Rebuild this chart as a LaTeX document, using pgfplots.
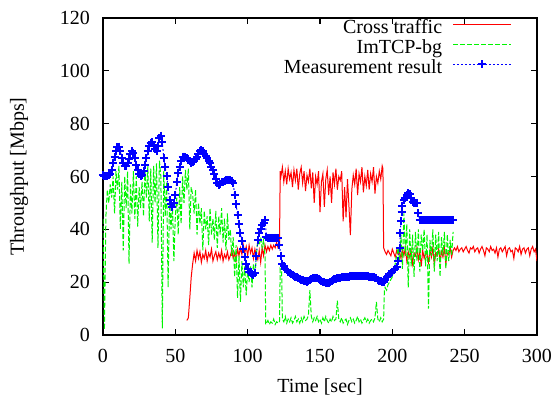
\documentclass[border=0pt]{standalone}
\usepackage{fontspec}
\setmainfont{Liberation Serif}
\usepackage{pgfplots}
\pgfplotsset{compat=1.18}

\definecolor{gpred}{RGB}{255,0,0}
\definecolor{gpgreen}{RGB}{0,245,0}
\definecolor{gpblue}{RGB}{0,0,255}

\begin{document}
\begin{tikzpicture}
\useasboundingbox (-51.5pt,-30.5pt) rectangle (225.5pt,167.5pt);
\begin{axis}[
  scale only axis,
  width=217pt, height=158.5pt,
  xmin=0, xmax=300, ymin=0, ymax=120,
  xtick={0,50,...,300}, ytick={0,20,...,120},
  minor tick num=0,
  tick align=inside,
  major tick length=3pt,
  tick style={line width=0.6pt, black},
  axis line style={line width=0.8pt, black},
  /pgf/number format/assume math mode=true,
  ticklabel style={font=\fontsize{10}{12}\selectfont},
  xticklabel shift=3.5pt,
  yticklabel shift=3pt,
  label style={font=\fontsize{10}{12}\selectfont},
  xlabel={Time [sec]},
  ylabel={Throughput [Mbps]},
  xlabel style={yshift=-1pt},
  ylabel style={yshift=9pt},
  legend plot pos=right,
  legend cell align=right,
  legend style={draw=none, fill=none, at={(0.943,1.0126)}, anchor=north east,
    inner sep=0pt, column sep=5pt,
    nodes={inner sep=0.35pt, text height=9.3pt, text depth=0pt},
    font=\fontsize{10}{12}\selectfont},
  legend image code/.code={%
    \draw[mark repeat=2, mark phase=2, #1] plot coordinates {(0pt,0pt) (14.5pt,0pt) (29pt,0pt)};},
]

% Cross traffic
\addplot[color=gpred, line width=0.5pt] table {
t v
58 5.5
59 6.5
60 14
61 22
62 27
63 31
64 28
65 32
66 29
67 31.5
68 27.5
69 30.5
70 29
71 32
72 28
73 31
74 29.5
75 32.5
76 28
77 30
78 31.5
79 28.5
80 31
81 29
82 32
83 28
84 30.5
85 29
86 31.5
87 28.5
88 30
89 32
90 29
91 31
92 28
93 32.5
94 30
95 33
96 30.5
97 34
98 31
99 33.5
100 30
101 34
102 31
103 33
104 29
105 32.5
106 30
107 28.5
108 32
109 27.5
110 33
111 30
112 34
113 31.5
114 33.5
115 32
116 34
117 32.5
118 34
119 33
120 35
121 33
122 34
122.5 62
123 60
124 63.5
125 58
126 62
127 57
128 63
129 59
130 61.5
131 56
132 62.5
133 58.5
134 63
135 55
136 61
137 63.5
138 57.5
139 62
140 54.5
141 60.5
142 58
143 63
144 55.5
145 61.5
146 50
147 60
148 57
149 62
150 46.5
151 58
152 61
153 48.5
154 59
155 62.5
156 53
157 60
158 50
159 61.5
160 57
161 63
162 55
163 60
164 58.5
165 62
166 43
167 56
168 44.5
169 59
170 49
171 37.8
172 55
173 60.5
174 57
175 63
176 53
177 61
178 58
179 63.5
180 54
181 60
182 56.5
183 62.5
184 55
185 61
186 58
187 63.5
188 53.5
189 60
190 57.5
191 62
192 59
193 64
193.5 63
194 33
195 31.5
196 30.5
197 32
198 31
199 30
200 32.5
201 31
202 29.5
203 32
204 30.5
205 31.5
206 29
207 32.5
208 30
209 33
210 28
211 31.5
212 29.5
213 32
214 27
215 31
216 30
217 33
218 28.5
219 31.5
220 26
221 32
222 29
223 31
224 30.5
225 27.5
226 32
227 29.5
228 33
229 26.5
230 31
231 30
232 32.5
233 28
234 31.5
235 29.5
236 33
237 27
238 31
239 30.5
240 33
241 29.5
242 32
243 33
244 32
245 33.5
246 31.5
247 32.5
248 33
249 31.5
250 32.5
251 33.5
252 32
253 31
254 33
255 32.5
256 33.5
257 31.5
258 32.5
259 33
260 31
261 32.5
262 33.5
263 32
264 30
265 33
266 32.5
267 31.5
268 33.5
269 32
270 32.5
271 31
272 33
273 29.5
274 32.5
275 33
276 31.5
277 32.5
278 33.5
279 30
280 32.5
281 33
282 31.5
283 32
284 29
285 33
286 32.5
287 31.5
288 33.5
289 30.5
290 32.5
291 33
292 31
293 32.5
294 33
295 30
296 32.5
297 33.5
298 31.5
299 32.5
300 28
};
\addlegendentry{Cross traffic}

% ImTCP-bg
\addplot[color=gpgreen, line width=0.5pt, dash pattern=on 2.5pt off 1pt] table {
t v
0 44
1 2
2 45
3 55
4 50
5 57
6 52
7 60
8 46
9 62
10 55
11 64
12 40
13 58
14 32
15 60
16 48
17 62
18 27
19 57
20 46
21 62
22 44
23 60
24 41
25 56
26 48
27 58
28 45
29 62
30 52
31 64
32 43
33 63
34 35
35 64
36 50
37 65
38 33
39 66
40 60
41 2.5
42 62
43 45
44 58
45 18
46 52
47 40
48 50
49 28
50 45
51 52
52 38
53 56
54 42
55 60
56 50
57 62.5
58 55
59 63
60 40
61 56
62 53
63 46
64 55
65 38
66 50
67 42
68 48
69 32
70 47
71 40
72 45
73 34
74 48
75 38
76 44
77 36
78 47
79 33
80 45
81 38
82 48
83 35
84 44
85 32
86 46
87 36
88 40
89 30
90 37
91 22
92 34
93 14
94 30
95 12.5
96 28
97 18
98 26
99 15
100 25
101 20
102 26
103 18
104 27
105 22
106 30
107 36
108 34
109 37
110 33
111 36
112 30
112.5 4
113 4.5
114 5.5
115 4
116 5
117 4.5
118 6
119 4
120 5
121 4.5
122 5
122.5 25
123.5 24
124 6
125 5
126 7
127 4.5
128 6
129 5
130 6.5
131 4.5
132 5.5
133 7
134 5
135 6
136 4.5
137 6.5
138 5
139 7
140 5.5
141 6
142 7.5
143 17
144 7
145 5
146 6.5
147 5.5
148 7
149 5
150 6
151 4.5
152 6.5
153 5
154 7
155 5.5
156 4.5
157 6
158 5
159 7
160 5.5
161 6
162 13
163 6
164 5
165 6.5
166 4.5
167 5.5
168 6
169 4
170 5.5
171 6.5
172 5
173 6
174 4.5
175 5.5
176 7
177 5
178 6
179 4.5
180 5.5
181 6.5
182 5
183 6
184 4.5
185 5.5
186 6
187 5
188 6.5
189 12.5
190 6
191 5
192 6.5
193 5
194 6
194.5 17
195 18
196 17
197 19
198 20
199 21
200 22
201 24
202 27
203 30
204 33
205 28
206 38
207 25
208 46
209 30
210 42
211 18
212 40
213 26
214 38
215 22
216 39
217 28
218 40
219 24
220 38
221 32
222 40
223 26
224 38
225 10
226 36
227 30
228 40
229 24
230 38
231 28
232 39
233 22
234 37
235 30
236 39
237 25
238 38
239 28
240 36
241 30
242 39
};
\addlegendentry{ImTCP-bg}

% Measurement result
\addplot[color=gpblue, line width=0.5pt, dash pattern=on 0.8pt off 1.2pt,
  mark=+, mark size=2pt, mark options={solid, line width=1pt}] table {
t v
0 60.5
1 60
2 60
3 60
4 60.5
5 61
6 62.5
7 65
8 67.5
9 69.5
10 71
11 71.3
12 69.5
13 67
14 65
15 64
16 64
17 65
18 66.5
19 68.5
20 69.5
21 69
22 67
23 64.5
24 62.5
25 61
26 60
27 60.5
28 62
29 64.5
30 67
31 69.5
32 71.5
33 72.8
34 73
35 72
36 70.5
37 69.5
38 71.5
39 74.5
40 75.5
41 73
42 67
43 63.5
44 60
45 56
46 51
47 49.5
48 48.6
49 50
50 53
51 58
52 61.5
53 63.7
54 66
55 67.5
56 67.5
57 67.3
58 67
59 66.5
60 65.8
61 65
62 65.3
63 66
64 66.8
65 67.5
66 68.5
67 69.5
68 70
69 69.5
70 68.7
71 67.8
72 67
73 66
74 65
75 63.5
76 62.5
77 61
78 59
79 57.5
80 56.8
81 57.3
82 57.8
83 58
84 58.3
85 58.5
86 58.7
87 58.7
88 58.7
89 58.3
90 57.5
91 53
92 49.5
93 45.5
94 42
95 38.5
96 35.5
97 32.5
98 29.5
99 27
100 25
101 24
102 23.3
103 22.9
104 22.7
105 23.5
106 30
107 36
108 38.5
109 40
110 41.5
111 42.5
112 43.5
113 37
114 36.8
115 36.8
116 36.8
117 36.8
118 36.8
119 36.8
120 36.8
121 36.8
122 34
123 30
124 27
125 26
126 25
127 24.5
128 24
129 23.5
130 23
131 22.7
132 22.4
133 22.1
134 21.9
135 21.6
136 21.3
137 21
138 20.7
139 20.5
140 20.3
141 20.2
142 20.4
143 20.8
144 21.2
145 21.5
146 21.6
147 21.6
148 21.5
149 21.3
150 21
151 20.6
152 20.2
153 19.9
154 19.7
155 19.6
156 19.8
157 20.1
158 20.5
159 20.8
160 21.1
161 21.3
162 21.5
163 21.6
164 21.7
165 21.8
166 21.9
167 22
168 22
169 22.1
170 22.1
171 22.2
172 22.2
173 22.2
174 22.3
175 22.3
176 22.3
177 22.3
178 22.3
179 22.3
180 22.3
181 22.2
182 22.2
183 22.2
184 22.1
185 22
186 22
187 21.9
188 21.7
189 21.4
190 21
191 20.6
192 20.3
193 20
194 20.2
195 21
196 22
197 22.5
198 23
199 23.5
200 24
201 24.5
202 25
203 25.8
204 28
205 33
205.5 38.5
206 43
206.5 46.5
207 49
208 51
209 52
210 53
211 53.7
212 53.2
213 52
214 50.5
215 50
216 50
217 49.8
218 46
219 43.5
220 43.5
221 43.5
222 43.5
223 43.5
224 43.5
225 43.5
226 43.5
227 43.5
228 43.5
229 43.5
230 43.5
231 43.5
232 43.5
233 43.5
234 43.5
235 43.5
236 43.5
237 43.5
238 43.5
239 43.5
240 43.5
241 43.5
242 43.5
};
\addlegendentry{Measurement result}

\end{axis}
\end{tikzpicture}
\end{document}
